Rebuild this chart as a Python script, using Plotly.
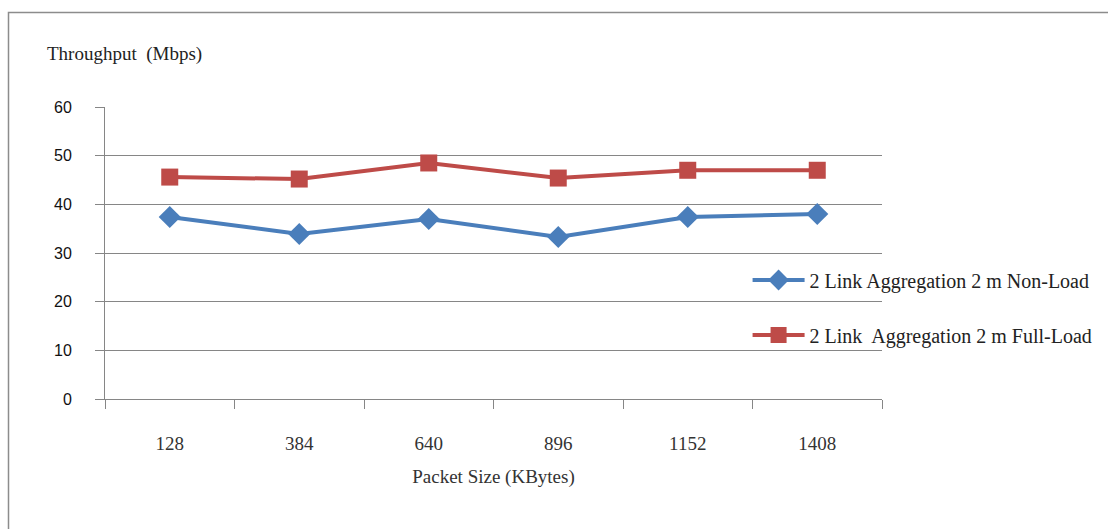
import plotly.graph_objects as go

packet_sizes = ["128", "384", "640", "896", "1152", "1408"]
non_load = [37.4, 33.9, 37.0, 33.3, 37.4, 38.0]
full_load = [45.6, 45.2, 48.5, 45.4, 47.0, 47.0]
y_ticks = [0, 10, 20, 30, 40, 50, 60]

series_names = ["2 Link Aggregation 2 m Non-Load", "2 Link  Aggregation 2 m Full-Load"]

serif = "Liberation Serif"
axis_grey = "#868686"

fig = go.Figure()
fig.add_trace(go.Scatter(
    x=packet_sizes, y=non_load, mode="lines+markers", name=series_names[0],
    line=dict(color="#4A7EBB", width=4),
    marker=dict(symbol="diamond", size=17, color="#4A7EBB"),
    legend="legend", showlegend=True,
))
fig.add_trace(go.Scatter(
    x=packet_sizes, y=full_load, mode="lines+markers", name=series_names[1],
    line=dict(color="#BE4B48", width=4),
    marker=dict(symbol="square", size=17, color="#BE4B48"),
    legend="legend2", showlegend=True,
))

legend_common = dict(
    xanchor="left", yanchor="middle", bgcolor="rgba(0,0,0,0)",
    font=dict(family=serif, size=20, color="#222"),
    itemwidth=52, borderwidth=0, visible=True,
)

fig.update_layout(
    width=1108, height=529,
    margin=dict(l=105, r=226, t=107, b=130, autoexpand=False),
    paper_bgcolor="white", plot_bgcolor="white",
    showlegend=True,
    legend=dict(x=0.827, y=(399 - 280) / 292, **legend_common),
    legend2=dict(x=0.827, y=(399 - 335) / 292, **legend_common),
    xaxis=dict(
        type="category", range=[-0.5, 5.5], tickson="boundaries",
        ticks="outside", ticklen=9,
        tickcolor=axis_grey, showline=True, linecolor=axis_grey, linewidth=1,
        showgrid=False, ticklabelstandoff=27,
        tickfont=dict(family=serif, size=19, color="#333"),
        title=dict(text="Packet Size (KBytes)", standoff=16,
                   font=dict(family=serif, size=19, color="#333")),
    ),
    yaxis=dict(
        range=[0, 60], tickvals=y_ticks, ticks="outside", ticklen=9,
        tickcolor=axis_grey, showline=True, linecolor=axis_grey, linewidth=1,
        showgrid=True, gridcolor=axis_grey, gridwidth=1, zeroline=False,
        ticklabelstandoff=20,
        tickfont=dict(family="Liberation Sans", size=16, color="#111"),
    ),
    annotations=[dict(
        text="Throughput  (Mbps)", xref="paper", yref="paper",
        x=(45 - 105) / 777, y=(399 - 54) / 292, xanchor="left", yanchor="middle",
        showarrow=False, font=dict(family=serif, size=19, color="#222"),
    )],
    shapes=[dict(
        type="rect", xref="paper", yref="paper",
        x0=(8.5 - 105) / 777, x1=(1120 - 105) / 777,
        y0=(399 - 560) / 292, y1=(399 - 12.5) / 292,
        line=dict(color="#8c8c8c", width=1.5), layer="below",
    )],
)

fig.write_html("out.html")
